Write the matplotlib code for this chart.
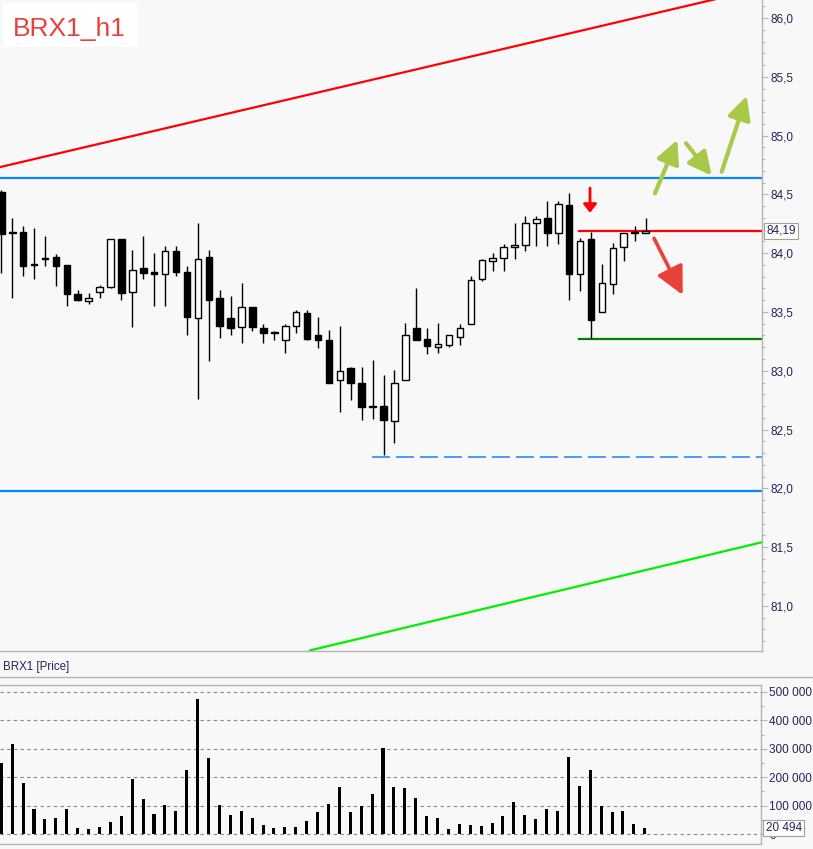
import matplotlib
matplotlib.use("Agg")
import matplotlib.pyplot as plt
from matplotlib.patches import FancyArrowPatch, FancyBboxPatch
from matplotlib.lines import Line2D
from matplotlib.ticker import MultipleLocator, FuncFormatter
import numpy as np

plt.rcParams['font.family'] = ['Liberation Sans', 'DejaVu Sans']

# hourly candles
opens = [84.52, 84.18, 84.18, 83.91, 83.96, 83.97, 83.90, 83.65, 83.59, 83.67,
         83.71, 84.12, 83.67, 83.87, 83.84, 83.82, 84.02, 83.84, 83.45, 83.97,
         83.62, 83.45, 83.37, 83.54, 83.36, 83.33, 83.26, 83.38, 83.49, 83.30,
         83.26, 82.92, 83.02, 82.90, 82.70, 82.70, 82.57, 82.92, 83.36, 83.27,
         83.20, 83.22, 83.29, 83.40, 83.78, 83.93, 83.96, 84.05, 84.07, 84.26,
         84.30, 84.17, 84.41, 83.82, 84.12, 83.50, 83.74, 84.05, 84.17, 84.17]
highs = [84.54, 84.30, 84.23, 84.21, 84.15, 83.99, 83.90, 83.69, 83.66, 83.73,
         84.12, 84.12, 84.03, 84.15, 84.00, 84.06, 84.06, 83.89, 84.26, 84.03,
         83.69, 83.64, 83.75, 83.54, 83.40, 83.34, 83.40, 83.52, 83.52, 83.46,
         83.35, 83.38, 83.03, 83.03, 83.09, 82.96, 83.01, 83.41, 83.70, 83.36,
         83.41, 83.30, 83.40, 83.81, 83.95, 84.00, 84.08, 84.26, 84.32, 84.32,
         84.44, 84.44, 84.51, 84.13, 84.18, 83.91, 84.09, 84.17, 84.23, 84.30]
lows = [83.83, 83.62, 83.81, 83.78, 83.89, 83.72, 83.55, 83.59, 83.57, 83.62,
        83.70, 83.60, 83.37, 83.78, 83.55, 83.55, 83.81, 83.30, 82.76, 83.08,
        83.28, 83.30, 83.24, 83.34, 83.24, 83.26, 83.15, 83.32, 83.26, 83.19,
        82.90, 82.65, 82.75, 82.58, 82.59, 82.28, 82.39, 82.92, 83.26, 83.14,
        83.15, 83.20, 83.22, 83.40, 83.76, 83.85, 83.85, 83.95, 84.02, 84.06,
        84.06, 84.08, 83.60, 83.68, 83.28, 83.50, 83.65, 83.93, 84.10, 84.17]
closes = [84.16, 84.17, 83.89, 83.90, 83.95, 83.89, 83.65, 83.60, 83.62, 83.71,
          84.12, 83.66, 83.86, 83.83, 83.82, 84.02, 83.84, 83.46, 83.95, 83.60,
          83.38, 83.36, 83.54, 83.37, 83.32, 83.32, 83.38, 83.50, 83.27, 83.26,
          82.90, 83.00, 82.90, 82.69, 82.69, 82.58, 82.90, 83.30, 83.26, 83.21,
          83.23, 83.30, 83.36, 83.77, 83.94, 83.96, 84.05, 84.07, 84.26, 84.29,
          84.17, 84.42, 83.82, 84.10, 83.43, 83.75, 84.04, 84.17, 84.17, 84.19]
volumes = [251000, 316000, 178000, 89000, 54000, 57000, 89000, 22000, 19000, 26000,
           43000, 64000, 193000, 124000, 69000, 103000, 82000, 226000, 476000, 266000,
           103000, 66000, 82000, 57000, 33000, 22000, 26000, 26000, 47000, 79000,
           107000, 167000, 79000, 100000, 142000, 304000, 167000, 163000, 128000, 64000,
           57000, 19000, 36000, 33000, 29000, 40000, 64000, 114000, 68000, 54000,
           89000, 82000, 272000, 170000, 226000, 100000, 79000, 82000, 36000, 20494]

last_price = 84.19
last_volume = 20494

# drawn levels and trend lines (bar index, price)
red_trend = [(-0.12, 84.732), (69.66, 86.253)]
green_trend = [(28.27, 80.622), (69.66, 81.542)]
blue_top = 84.64
blue_bottom = 81.98
blue_dashed = 82.27
blue_dashed_start = 33.95
level_start = 52.9
red_level = 84.19
green_level = 83.27

small_red_arrow = [(53.91, 84.554), (53.91, 84.344)]
big_red_arrow = [(59.77, 84.127), (62.40, 83.645)]
green_arrows = [[(59.86, 84.509), (61.90, 84.963)],
                [(62.70, 84.935), (65.05, 84.659)],
                [(65.97, 84.693), (68.26, 85.337)]]

bg = '#f8f8f8'
spine_c = '#b4b4b4'
label_c = '#2e1f58'

W, H = 813, 849
fig = plt.figure(figsize=(W / 100, H / 100), dpi=100, facecolor=bg)

ax = fig.add_axes([0, 1 - 651 / H, 762 / W, 651 / H], facecolor=bg)
axv = fig.add_axes([0, 1 - 844 / H, 761 / W, 159 / H], facecolor=bg)

x = np.arange(len(opens))
o = np.array(opens)
c = np.array(closes)
hi = np.array(highs)
lo = np.array(lows)

ax.vlines(x, lo, hi, color='black', lw=1.0, zorder=3)
body_bottom = np.minimum(o, c)
body_h = np.maximum(np.abs(c - o), 0.012)
up = c >= o
ax.bar(x[up], body_h[up], bottom=body_bottom[up], width=0.6, color='white',
       edgecolor='black', lw=1.0, zorder=4)
ax.bar(x[~up], body_h[~up], bottom=body_bottom[~up], width=0.6, color='black',
       edgecolor='black', lw=1.0, zorder=4)

xmin, xmax = -0.12, 69.66
ax.set_xlim(xmin, xmax)
ax.set_ylim(80.617, 86.153)

ax.plot(*zip(*red_trend), color='#ff0000', lw=1.6, zorder=2)
ax.plot(*zip(*green_trend), color='#00f000', lw=1.6, zorder=2)
ax.axhline(blue_top, color='#0a84ff', lw=1.6, zorder=2)
ax.axhline(blue_bottom, color='#0a84ff', lw=1.6, zorder=2)
ax.plot([blue_dashed_start, xmax], [blue_dashed] * 2, color='#1a80ff', lw=1.1,
        dashes=(11.8, 3.9), zorder=2)
ax.plot([level_start, xmax], [red_level] * 2, color='#ff0000', lw=1.6, zorder=2)
ax.plot([level_start, xmax], [green_level] * 2, color='#008000', lw=1.6, zorder=2)

ax.add_patch(FancyArrowPatch(*small_red_arrow, arrowstyle='-|>,head_length=5,head_width=4',
                             mutation_scale=1, color='#ff0000', lw=2, shrinkA=0, shrinkB=0, zorder=6))
ax.add_patch(FancyArrowPatch(*big_red_arrow, arrowstyle='-|>,head_length=17,head_width=8.5',
                             mutation_scale=1, color='#e8413a', lw=2.6, shrinkA=0, shrinkB=0, zorder=6))
for a in green_arrows:
    ax.add_patch(FancyArrowPatch(*a, arrowstyle='-|>,head_length=14,head_width=7',
                                 mutation_scale=1, color='#a8c84a', lw=3, shrinkA=0, shrinkB=0, zorder=6))

ax.yaxis.tick_right()
ax.yaxis.set_major_locator(MultipleLocator(0.5))
ax.yaxis.set_minor_locator(MultipleLocator(0.1))
ax.yaxis.set_major_formatter(FuncFormatter(lambda v, p: f"{v:.1f}".replace('.', ',')))
ax.tick_params(axis='y', which='major', length=4.5, width=0.8, color=spine_c, pad=1.5,
               labelsize=8.5, labelcolor=label_c)
ax.tick_params(axis='y', which='minor', length=2.5, width=0.8, color=spine_c)
ax.set_xticks([])
for s in ['left', 'top']:
    ax.spines[s].set_visible(False)
for s in ['right', 'bottom']:
    ax.spines[s].set_color(spine_c)
    ax.spines[s].set_linewidth(1.0)

ax.text(1.006, red_level, f"{last_price:.2f}".replace('.', ','), transform=ax.get_yaxis_transform(),
        ha='left', va='center', fontsize=8.5, color=label_c, zorder=10,
        bbox=dict(boxstyle='square,pad=0.18', fc='white', ec='#a0a0a0', lw=0.8), clip_on=False)

# volume panel
axv.bar(x, volumes, width=0.28, color='black', zorder=3)
axv.set_xlim(xmin, xmax)
axv.set_ylim(-35200, 524600)
axv.yaxis.tick_right()
axv.yaxis.set_major_locator(MultipleLocator(100000))
axv.yaxis.set_minor_locator(MultipleLocator(50000))
axv.yaxis.set_major_formatter(FuncFormatter(lambda v, p: f"{int(v):,}".replace(',', ' ')))
axv.tick_params(axis='y', which='major', length=4.5, width=0.8, color=spine_c, pad=1.5,
                labelsize=8.5, labelcolor=label_c)
axv.tick_params(axis='y', which='minor', length=2.5, width=0.8, color=spine_c)
axv.set_xticks([])
axv.grid(axis='y', which='major', color='#888888', lw=0.8, dashes=(3, 3))
axv.spines['left'].set_visible(False)
for s in ['right', 'bottom', 'top']:
    axv.spines[s].set_color(spine_c)
    axv.spines[s].set_linewidth(1.0)
axv.text(1.006, last_volume, f"{last_volume:,}".replace(',', ' '), transform=axv.get_yaxis_transform(),
         ha='left', va='center', fontsize=8.5, color=label_c, zorder=10,
         bbox=dict(boxstyle='square,pad=0.18', fc='white', ec='#a0a0a0', lw=0.8), clip_on=False)

# separators and captions
fig.add_artist(Line2D([0, 1], [1 - 677 / H] * 2, color=spine_c, lw=1.0))
fig.text(3 / W, 1 - 667 / H, "BRX1 [Price]", fontsize=8.3, color=label_c, va='center', ha='left')

fig.add_artist(FancyBboxPatch((3 / W, 1 - 47 / H), 135 / W, 44 / H,
                              boxstyle='round,pad=0,rounding_size=0.004',
                              transform=fig.transFigure, fc='white', ec='none'))
fig.text(69.5 / W, 1 - 36 / H, "BRX1_h1", fontsize=19, color='#e8413a', ha='center', va='baseline')

fig.savefig("out.png", dpi=100, facecolor=bg)
